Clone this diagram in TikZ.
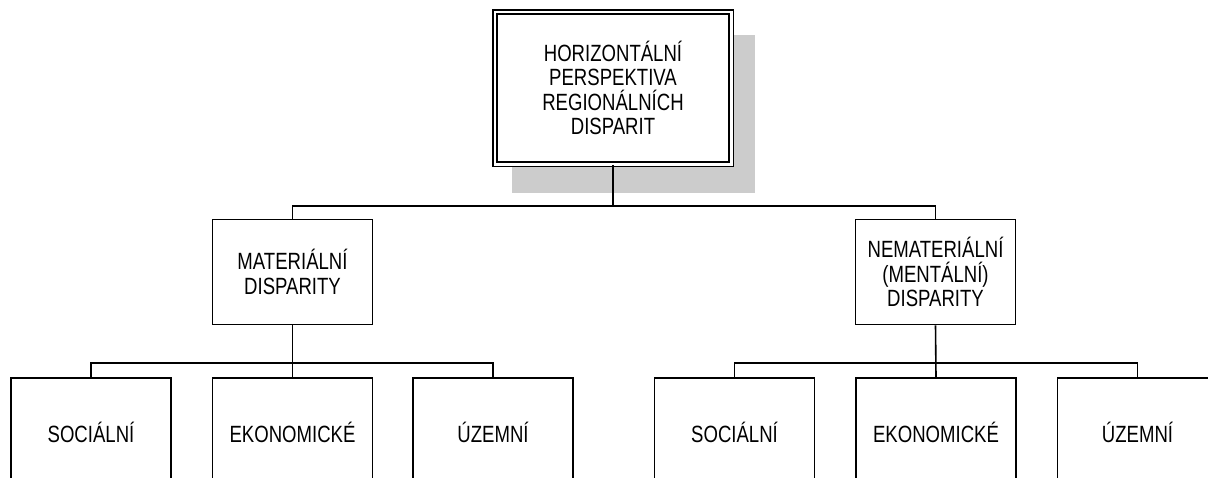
\documentclass[tikz,border=0pt]{standalone}
\usepackage{fontspec}
\setmainfont{Liberation Sans}[FakeStretch=0.79]
\definecolor{shadowgray}{HTML}{CCCCCC}
\begin{document}
\begin{tikzpicture}[x=1pt,y=-1pt,
  every node/.style={font=\fontsize{23.5}{24.5}\selectfont, align=center, inner sep=0pt},
  rootbox/.style={draw, fill=white, double=white, double distance=2.6pt, line width=1.5pt,
    minimum width=236.4pt, minimum height=152.4pt},
  midbox/.style={draw, fill=white, line width=1.6pt, minimum width=160pt, minimum height=105pt},
  leafbox/.style={draw, fill=white, line width=1.6pt, minimum width=160pt, minimum height=110pt, anchor=north},
  conn/.style={line width=1.6pt}]
\useasboundingbox (0,0) rectangle (1208,477);
\clip (0,0) rectangle (1208,477);
% shadow of the top box
\fill[shadowgray] (512,35) rectangle (755,193);
\node[rootbox] (root) at (613,88) {HORIZONTÁLNÍ\\PERSPEKTIVA\\REGIONÁLNÍCH\\DISPARIT};
\node[midbox] (mat) at (292.5,272) {MATERIÁLNÍ\\DISPARITY};
\node[midbox] (nem) at (935.5,272) {NEMATERIÁLNÍ\\(MENTÁLNÍ)\\DISPARITY};
\node[leafbox] (ms) at (91,377) {SOCIÁLNÍ};
\node[leafbox] (me) at (292.5,377) {EKONOMICKÉ};
\node[leafbox] (mu) at (493,377) {ÚZEMNÍ};
\node[leafbox] (ns) at (734.5,377) {SOCIÁLNÍ};
\node[leafbox] (ne) at (936,377) {EKONOMICKÉ};
\node[leafbox] (nu) at (1137.5,377) {ÚZEMNÍ};
\coordinate (j0) at (613,206);
\coordinate (j1) at (292.5,363);
\coordinate (j2) at (935.5,363);
\draw[conn] (root.south) -- (j0);
\draw[conn] (j0) -| (mat.north);
\draw[conn] (j0) -| (nem.north);
\draw[conn] (mat.south) -- (me.north);
\draw[conn] (j1) -| (ms.north);
\draw[conn] (j1) -| (mu.north);
\draw[conn] (nem.south) -- (ne.north);
\draw[conn] (j2) -| (ns.north);
\draw[conn] (j2) -| (nu.north);
\end{tikzpicture}
\end{document}
